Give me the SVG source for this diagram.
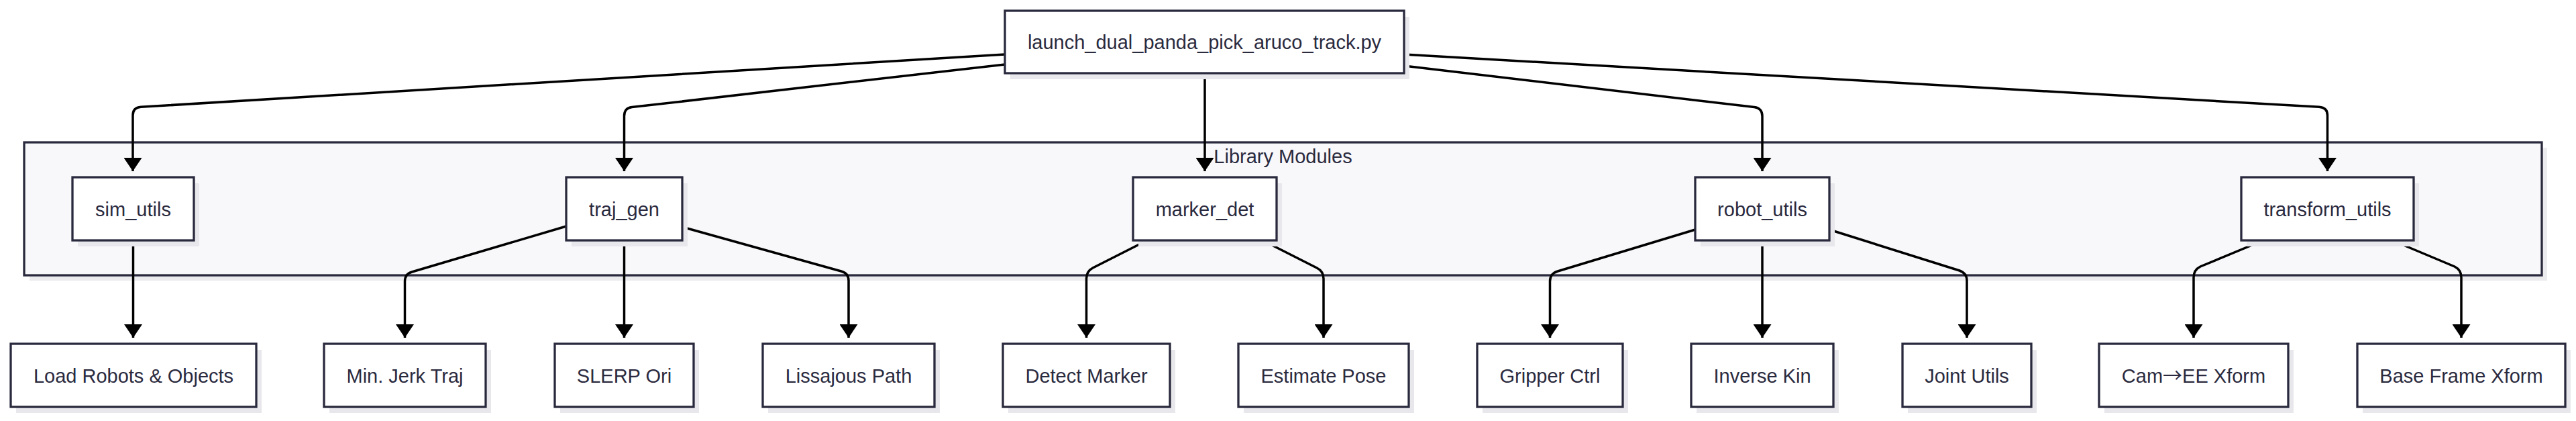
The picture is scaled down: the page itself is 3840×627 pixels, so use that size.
<svg xmlns="http://www.w3.org/2000/svg" width="3840" height="627" viewBox="0 0 3840 627">
<defs>
<style>
.bg{fill:#ffffff}
.cluster{fill:#f8f8fa;stroke:#2a2a3e;stroke-width:3.3}
.cshadow{fill:#ececef}
.node rect.box{fill:#ffffff;stroke:#2a2a3e;stroke-width:3.3}
.node rect.sh{fill:#e8e8ec}
text{font-family:"Liberation Sans",Arial,sans-serif;font-size:29px;fill:#2a2a3e;text-anchor:middle}
.sym{font-family:"Noto Sans CJK SC","Liberation Sans",sans-serif}
.edge{fill:none;stroke:#000000;stroke-width:3.5;marker-end:url(#arrow)}
</style>
<marker id="arrow" markerUnits="userSpaceOnUse" viewBox="0 0 20 27" refX="20" refY="13.5" markerWidth="20" markerHeight="27" orient="auto">
<path d="M0 0 L20 13.5 L0 27 Z" fill="#000000"/>
</marker>
</defs>
<rect class="bg" x="0" y="0" width="3840" height="627"/>
<g id="cluster-library-modules">
<rect class="cshadow" x="44" y="220" width="3753" height="198"/>
<rect class="cluster" x="36" y="212" width="3753" height="198"/>
<text x="1912.5" y="243">Library Modules</text>
</g>
<g id="connectors">
<path class="edge" d="M1498 81 L210 159.3 Q198 160 198 172 L198 255"/>
<path class="edge" d="M1498 96 L942 159.6 Q930.5 161 930.5 173 L930.5 255"/>
<path class="edge" d="M1796 109 L1796 255"/>
<path class="edge" d="M2093 98 L2615 159.5 Q2627 161 2627 173 L2627 255"/>
<path class="edge" d="M2093 81 L3457 159.3 Q3469.5 160 3469.5 172 L3469.5 255"/>
<path class="edge" d="M198.5 358 L198.5 503"/>
<path class="edge" d="M844 337 L614 405 Q603.5 408 603.5 419 L603.5 503"/>
<path class="edge" d="M930.5 358 L930.5 503"/>
<path class="edge" d="M1017 338 L1254 404 Q1265 407 1265 418 L1265 503"/>
<path class="edge" d="M1710 358 L1629 399 Q1619.5 404 1619.5 415 L1619.5 503"/>
<path class="edge" d="M1882 358 L1963 399 Q1973 404 1973 415 L1973 503"/>
<path class="edge" d="M2527 342 L2322 404 Q2310.5 407.5 2310.5 419 L2310.5 503"/>
<path class="edge" d="M2627 358 L2627 503"/>
<path class="edge" d="M2727 342 L2921 403 Q2932 407 2932 418 L2932 503"/>
<path class="edge" d="M3374 358 L3280 397 Q3270 402 3270 413 L3270 503"/>
<path class="edge" d="M3566 358 L3659 397 Q3669 402 3669 413 L3669 503"/>
</g>
<g id="launch" class="node">
<rect class="sh" x="1506" y="25" width="595" height="93"/>
<rect class="box" x="1498" y="16" width="595" height="93"/>
<text x="1795.5" y="72.5">launch_dual_panda_pick_aruco_track.py</text>
</g>
<g id="sim_utils" class="node">
<rect class="sh" x="116" y="273" width="181" height="94"/>
<rect class="box" x="108" y="264" width="181" height="94"/>
<text x="198.5" y="321.5">sim_utils</text>
</g>
<g id="traj_gen" class="node">
<rect class="sh" x="852" y="273" width="173" height="94"/>
<rect class="box" x="844" y="264" width="173" height="94"/>
<text x="930.5" y="321.5">traj_gen</text>
</g>
<g id="marker_det" class="node">
<rect class="sh" x="1697" y="273" width="214" height="94"/>
<rect class="box" x="1689" y="264" width="214" height="94"/>
<text x="1796" y="321.5">marker_det</text>
</g>
<g id="robot_utils" class="node">
<rect class="sh" x="2535" y="273" width="200" height="94"/>
<rect class="box" x="2527" y="264" width="200" height="94"/>
<text x="2627" y="321.5">robot_utils</text>
</g>
<g id="transform_utils" class="node">
<rect class="sh" x="3349" y="273" width="257" height="94"/>
<rect class="box" x="3341" y="264" width="257" height="94"/>
<text x="3469.5" y="321.5">transform_utils</text>
</g>
<g id="load_robots" class="node">
<rect class="sh" x="24" y="521" width="366" height="94"/>
<rect class="box" x="16" y="512" width="366" height="94"/>
<text x="199" y="569.5">Load Robots &amp; Objects</text>
</g>
<g id="min_jerk" class="node">
<rect class="sh" x="491" y="521" width="241" height="94"/>
<rect class="box" x="483" y="512" width="241" height="94"/>
<text x="603.5" y="569.5">Min. Jerk Traj</text>
</g>
<g id="slerp" class="node">
<rect class="sh" x="835" y="521" width="207" height="94"/>
<rect class="box" x="827" y="512" width="207" height="94"/>
<text x="930.5" y="569.5">SLERP Ori</text>
</g>
<g id="lissajous" class="node">
<rect class="sh" x="1145" y="521" width="256" height="94"/>
<rect class="box" x="1137" y="512" width="256" height="94"/>
<text x="1265" y="569.5">Lissajous Path</text>
</g>
<g id="detect_marker" class="node">
<rect class="sh" x="1503" y="521" width="249" height="94"/>
<rect class="box" x="1495" y="512" width="249" height="94"/>
<text x="1619.5" y="569.5">Detect Marker</text>
</g>
<g id="estimate_pose" class="node">
<rect class="sh" x="1854" y="521" width="254" height="94"/>
<rect class="box" x="1846" y="512" width="254" height="94"/>
<text x="1973" y="569.5">Estimate Pose</text>
</g>
<g id="gripper_ctrl" class="node">
<rect class="sh" x="2210" y="521" width="217" height="94"/>
<rect class="box" x="2202" y="512" width="217" height="94"/>
<text x="2310.5" y="569.5">Gripper Ctrl</text>
</g>
<g id="inverse_kin" class="node">
<rect class="sh" x="2529" y="521" width="212" height="94"/>
<rect class="box" x="2521" y="512" width="212" height="94"/>
<text x="2627" y="569.5">Inverse Kin</text>
</g>
<g id="joint_utils" class="node">
<rect class="sh" x="2844" y="521" width="192" height="94"/>
<rect class="box" x="2836" y="512" width="192" height="94"/>
<text x="2932" y="569.5">Joint Utils</text>
</g>
<g id="cam_ee_xform" class="node">
<rect class="sh" x="3137" y="521" width="282" height="94"/>
<rect class="box" x="3129" y="512" width="282" height="94"/>
<text x="3270" y="569.5">Cam<tspan class="sym">→</tspan>EE Xform</text>
</g>
<g id="base_frame_xform" class="node">
<rect class="sh" x="3522" y="521" width="310" height="94"/>
<rect class="box" x="3514" y="512" width="310" height="94"/>
<text x="3669" y="569.5">Base Frame Xform</text>
</g>
</svg>
